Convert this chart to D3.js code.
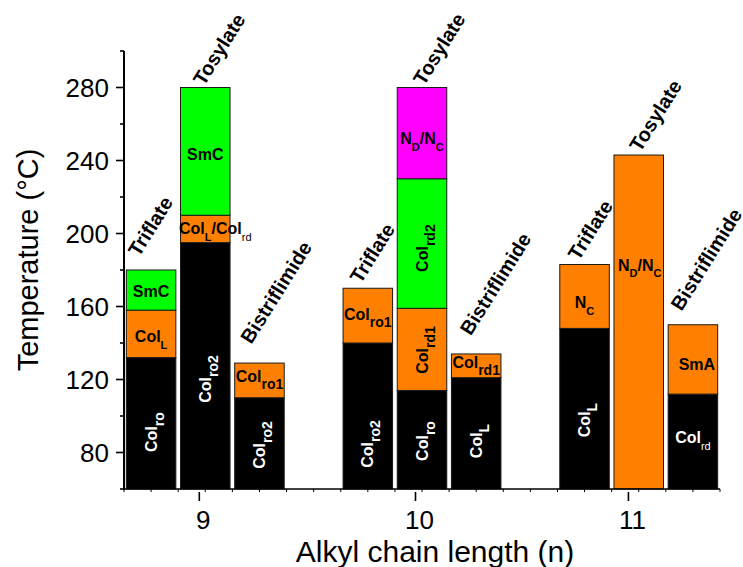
<!DOCTYPE html>
<html><head><meta charset="utf-8">
<script src="https://cdn.jsdelivr.net/npm/d3@7"></script>
<style>body{margin:0;background:#fff} svg{display:block}</style>
</head><body>
<svg id="chart" width="743" height="567"></svg>
<script>
// ---------- data ----------
const xTickLabels = ["9", "10", "11"];
const xTickValues = [1.89, 5.88, 9.81];           // bar-index units
const yTickValues = [80, 120, 160, 200, 240, 280];
const yMinorValues = [60, 100, 140, 180, 220, 260, 300];
const barIndex = [1, 2, 3, 5, 6, 7, 9, 10, 11];
const barAnion = ["Triflate", "Tosylate", "Bistriflimide",
                  "Triflate", "Tosylate", "Bistriflimide",
                  "Triflate", "Tosylate", "Bistriflimide"];
const transitionTemps = [
  [132, 158, 180], [195, 210, 280], [110, 129],
  [140, 170], [114, 159, 230, 280], [121, 134],
  [148, 183], [243], [112, 150]
];
// markup: _{..} bold subscript, .{..} small bold subscript, ~{..} small regular subscript
const phaseNames = [
  ["Col_{ro}", "Col.{L}", "SmC"], ["Col_{ro2}", "Col.{L}/Col~{rd}", "SmC"], ["Col_{ro2}", "Col_{ro1}"],
  ["Col_{ro2}", "Col_{ro1}"], ["Col_{ro}", "Col_{rd1}", "Col_{rd2}", "N.{D}/N.{C}"], ["Col_{L}", "Col_{rd1}"],
  ["Col_{L}", "N.{C}"], ["N.{D}/N.{C}"], ["Col~{rd}", "SmA"]
];
const phaseKind = [
  ["col", "colL", "smc"], ["col", "colL", "smc"], ["col", "colL"],
  ["col", "colL"], ["col", "colL", "smc", "nem"], ["col", "colL"],
  ["col", "colL"], ["colL"], ["col", "colL"]
];

// ---------- layout / style ----------
const kindColor = {col: "#000000", colL: "#ff8000", smc: "#00ff00", nem: "#ff00ff"};
const labelAt = [ // temperature where each phase label is centred
  [91.2, 143.4, 168.5], [120.3, 202.6, 243.6], [84.1, 121.5],
  [84.7, 155.5], [86.3, 136.2, 192, 252], [86.3, 129.2],
  [97.8, 162.2], [182.6], [88.2, 128.5]
];
const labelRot = [
  [-90, 0, 0], [-90, 0, 0], [-90, 0],
  [-90, 0], [-90, -90, -90, 0], [-90, 0],
  [-90, 0], [0], [0, 0]
];
const labelDx = [
  [0, 0, 0], [0, 10, 0], [0, 0],
  [0, 0], [0, 0, 0, 0], [0, 0],
  [0, 0], [1], [0, 4]
];
const anionAnchor = [ // [index, temperature] baseline start of rotated anion names
  [0.776, 186.7], [1.975, 280.4], [2.85, 138.9],
  [4.87, 172], [6.036, 280.6], [6.90, 143.5],
  [8.894, 184.7], [10.03, 244.1], [10.79, 157]
];

const mLeft = 124, mRight = 720, mTop = 51, mBottom = 489;
const FONT = "Arial, 'Liberation Sans', Helvetica, sans-serif";
const svg = d3.select("#chart");

const x = d3.scaleLinear().domain([0.5, 11.5]).range([mLeft, mRight]);
const y = d3.scaleLinear().domain([60, 300]).range([mBottom, mTop]);
const barW = x(1.914) - x(1);

// ---------- bars ----------
const segs = [];
barIndex.forEach((bi, i) => {
  let prev = 60;
  transitionTemps[i].forEach((t, j) => {
    segs.push({bi, i, j, t0: prev, t1: t, name: phaseNames[i][j], kind: phaseKind[i][j],
      lt: labelAt[i][j], rot: labelRot[i][j], dx: labelDx[i][j]});
    prev = t;
  });
});

svg.append("g").selectAll("rect").data(segs).join("rect")
  .attr("x", d => x(d.bi) - barW / 2)
  .attr("width", barW)
  .attr("y", d => y(d.t1))
  .attr("height", d => y(d.t0) - y(d.t1))
  .attr("fill", d => kindColor[d.kind])
  .attr("stroke", "#1a1a1a")
  .attr("stroke-width", 1);

// ---------- phase labels ----------
function parse(s) {
  const parts = [];
  const re = /([_.~])\{([^}]*)\}/g;
  let last = 0, m;
  while ((m = re.exec(s))) {
    if (m.index > last) parts.push({t: s.slice(last, m.index), sub: null});
    parts.push({t: m[2], sub: m[1]});
    last = re.lastIndex;
  }
  if (last < s.length) parts.push({t: s.slice(last), sub: null});
  return parts;
}
const subStyle = {"_": {size: 14, weight: "bold", shift: 7}, ".": {size: 11, weight: "bold", shift: 6.5}, "~": {size: 11, weight: "normal", shift: 7}};

const lab = svg.append("g").attr("font-family", FONT);
segs.forEach(d => {
  const cx = x(d.bi) + d.dx, cy = y(d.lt);
  const g = lab.append("g").attr("transform", `translate(${cx},${cy}) rotate(${d.rot})`);
  const txt = g.append("text")
    .attr("x", 0).attr("y", 5.6)
    .attr("text-anchor", "middle")
    .attr("font-size", 16).attr("font-weight", "bold")
    .attr("fill", d.kind === "col" ? "#fff" : "#000");
  let cur = 0;
  parse(d.name).forEach(p => {
    const ts = txt.append("tspan").text(p.t);
    if (p.sub) {
      const st = subStyle[p.sub];
      ts.attr("font-size", st.size).attr("font-weight", st.weight).attr("dy", st.shift - cur);
      cur = st.shift;
    } else if (cur !== 0) {
      ts.attr("dy", -cur); cur = 0;
    }
  });
});

// ---------- anion names ----------
svg.append("g").selectAll("text").data(anionAnchor).join("text")
  .attr("transform", d => `translate(${x(d[0])},${y(d[1])}) rotate(-58)`)
  .attr("font-family", FONT).attr("font-size", 20).attr("font-weight", "bold")
  .attr("fill", "#000")
  .text((d, i) => barAnion[i]);

// ---------- axes ----------
const ax = svg.append("g").attr("stroke", "#000").attr("fill", "none");
ax.append("line").attr("x1", mLeft).attr("x2", mLeft).attr("y1", mTop).attr("y2", mBottom + 1).attr("stroke-width", 2);
ax.append("line").attr("x1", mLeft - 1).attr("x2", mRight).attr("y1", mBottom).attr("y2", mBottom).attr("stroke-width", 1.6);

// y ticks
ax.selectAll(".ymaj").data(yTickValues).join("line")
  .attr("x1", mLeft - 8).attr("x2", mLeft).attr("y1", d => y(d)).attr("y2", d => y(d)).attr("stroke-width", 1.6);
ax.selectAll(".ymin").data(yMinorValues).join("line")
  .attr("x1", mLeft - 4).attr("x2", mLeft).attr("y1", d => y(d)).attr("y2", d => y(d)).attr("stroke-width", 1.6);
svg.append("g").selectAll("text").data(yTickValues).join("text")
  .attr("x", mLeft - 15).attr("y", d => y(d) + 9.5)
  .attr("text-anchor", "end").attr("font-family", FONT).attr("font-size", 26).attr("fill", "#000")
  .text(d => d);

// x minor ticks every 0.5
const xMinor = d3.range(0.5, 11.51, 0.5);
ax.selectAll(".xmin").data(xMinor).join("line")
  .attr("x1", d => x(d)).attr("x2", d => x(d)).attr("y1", mBottom).attr("y2", mBottom + 3).attr("stroke-width", 1);
ax.selectAll(".xmaj").data(xTickValues).join("line")
  .attr("x1", d => x(d)).attr("x2", d => x(d)).attr("y1", mBottom + 3).attr("y2", mBottom + 12).attr("stroke-width", 1.6);
svg.append("g").selectAll("text").data(xTickValues).join("text")
  .attr("x", d => x(d) + 4).attr("y", mBottom + 40)
  .attr("text-anchor", "middle").attr("font-family", FONT).attr("font-size", 26).attr("fill", "#000")
  .text((d, i) => xTickLabels[i]);

// axis titles
svg.append("text").attr("x", 435).attr("y", 562)
  .attr("text-anchor", "middle").attr("font-family", FONT).attr("font-size", 30).attr("fill", "#000")
  .text("Alkyl chain length (n)");
svg.append("text").attr("transform", "translate(38,260) rotate(-90)")
  .attr("text-anchor", "middle").attr("font-family", FONT).attr("font-size", 29).attr("fill", "#000")
  .text("Temperature (°C)");
</script>
</body></html>
